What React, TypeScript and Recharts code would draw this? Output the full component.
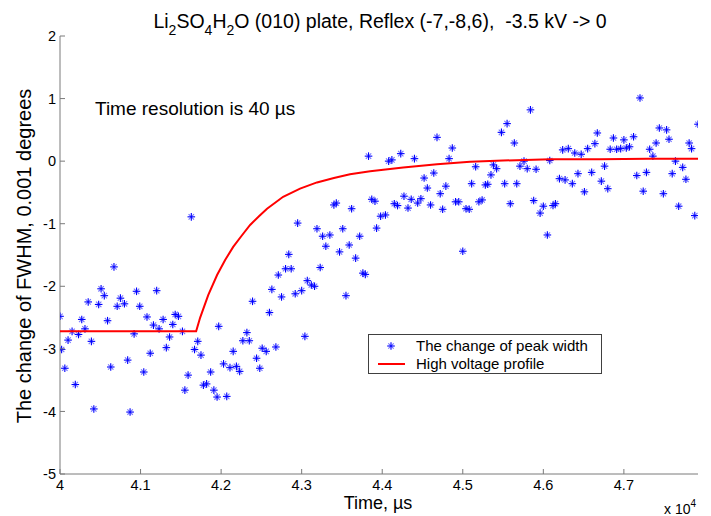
import { ScatterChart, Scatter, XAxis, YAxis, Legend } from 'recharts';

// Time, µs and peak width change (0.001 deg)
const widthTimes = [
  40000, 40020, 40060, 40100, 40150, 40190, 40230, 40270, 40310, 40350,
  40390, 40420, 40480, 40510, 40550, 40590, 40630, 40670, 40710, 40750,
  40800, 40840, 40870, 40920, 40950, 40990, 41040, 41080, 41120, 41160,
  41200, 41230, 41280, 41320, 41360, 41400, 41430, 41470, 41520, 41550,
  41590, 41630, 41670, 41710, 41750, 41780, 41820, 41870, 41910, 41950,
  41970, 42030, 42070, 42110, 42150, 42190, 42230, 42270, 42320, 42350,
  42390, 42440, 42480, 42510, 42560, 42600, 42630, 42680, 42710, 42750,
  42800, 42840, 42870, 42920, 42950, 43000, 43040, 43070, 43120, 43160,
  43190, 43230, 43260, 43300, 43350, 43400, 43430, 43470, 43510, 43550,
  43590, 43620, 43670, 43720, 43760, 43790, 43830, 43870, 43910, 43930,
  43980, 44040, 44080, 44120, 44150, 44190, 44230, 44270, 44320, 44360,
  44400, 44440, 44480, 44520, 44560, 44600, 44640, 44680, 44720, 44750,
  44790, 44830, 44870, 44910, 44950, 45000, 45040, 45080, 45110, 45160,
  45200, 45240, 45280, 45310, 45350, 45380, 45420, 45480, 45520, 45550,
  45590, 45640, 45670, 45710, 45760, 45800, 45840, 45880, 45910, 45960,
  46000, 46050, 46080, 46120, 46150, 46200, 46240, 46270, 46310, 46360,
  46390, 46430, 46470, 46510, 46550, 46600, 46640, 46670, 46720, 46760,
  46800, 46830, 46870, 46910, 46960, 47000, 47030, 47070, 47120, 47160,
  47200, 47240, 47280, 47320, 47360, 47400, 47440, 47490, 47530, 47560,
  47600, 47640, 47680, 47730, 47770, 47810, 47840, 47880, 47920,
];

const widthValues = [
  -2.48, -3.01, -3.31, -2.86, -2.72, -3.57, -2.77, -2.53, -2.68, -2.25,
  -2.88, -3.96, -2.29, -2.04, -2.15, -2.55, -3.29, -1.69, -2.32, -2.19,
  -2.28, -3.18, -4.01, -2.76, -2.08, -2.32, -3.37, -2.49, -3.07, -2.62,
  -2.07, -2.68, -2.53, -2.98, -2.81, -2.61, -2.45, -2.48, -2.72, -3.66,
  -3.42, -0.89, -3.01, -2.88, -3.10, -3.58, -3.56, -3.37, -3.66, -3.77,
  -2.64, -3.24, -3.76, -3.30, -3.04, -3.28, -3.36, -2.87, -2.74, -2.87,
  -2.24, -3.15, -3.31, -2.99, -3.04, -2.42, -2.05, -2.97, -1.82, -2.17,
  -1.72, -1.49, -1.72, -2.12, -0.99, -2.07, -2.80, -1.91, -1.98, -2.00,
  -1.08, -1.70, -1.20, -1.36, -1.18, -0.70, -0.67, -1.45, -1.08, -2.15,
  -1.34, -0.76, -1.55, -1.20, -1.79, -1.81, 0.08, -0.61, -0.64, -1.07,
  -0.88, -0.86, 0.0, 0.02, -0.68, -0.71, 0.12, -0.56, -0.75, -0.61,
  0.04, -0.67, -0.60, -0.27, -0.43, -0.70, -0.19, 0.38, -0.52, -0.77,
  -0.40, 0.04, 0.21, -0.65, -0.65, -1.44, -0.76, -0.77, -0.36, -0.09,
  -0.65, -0.62, -0.38, -0.37, -0.22, -0.06, -0.12, 0.46, -0.36, 0.60,
  -0.68, 0.29, -0.36, -0.08, 0.0, -0.12, 0.82, -0.63, -0.13, -0.83,
  -0.72, -1.18, 0.01, -0.71, -0.68, -0.28, 0.18, -0.30, 0.20, -0.36,
  0.13, -0.20, 0.11, -0.49, 0.20, -0.18, 0.28, 0.45, -0.32, -0.08,
  -0.44, 0.19, 0.37, 0.19, 0.20, 0.34, 0.21, 0.23, 0.39, -0.23,
  1.01, -0.48, -0.18, 0.19, 0.08, 0.29, 0.53, -0.52, 0.50, 0.35,
  -0.20, 0.0, -0.72, -0.10, -0.29, 0.29, 0.20, -0.87, 0.59,
];

// high voltage profile, read at points along the red curve
const profileTimes = [
  40000, 41690, 41740, 41840, 41950, 42050, 42150, 42250, 42360, 42470,
  42570, 42770, 42980, 43190, 43400, 43600, 43850, 44260, 44680, 45090,
  45500, 46090, 46700, 47300, 47920,
];
const profileValues = [
  -2.72, -2.72, -2.50, -2.14, -1.82, -1.58, -1.37, -1.20, -1.02, -0.88,
  -0.76, -0.57, -0.44, -0.34, -0.27, -0.21, -0.16, -0.10, -0.05, -0.01,
  0.01, 0.03, 0.03, 0.04, 0.04,
];

const xTicks = [40000, 41000, 42000, 43000, 44000, 45000, 46000, 47000];
const yTicks = [-5, -4, -3, -2, -1, 0, 1, 2];

const widthData = widthTimes.map((t, i) => ({ t, v: widthValues[i] }));
const profileData = profileTimes.map((t, i) => ({ t, v: profileValues[i] }));

const FONT = '"Liberation Sans", Arial, sans-serif';
const AXIS = '#7a7a7a';
const BLUE = '#0000ff';
const RED = '#ff0000';
const TICK = 5;

function Asterisk(props: any) {
  const { cx, cy } = props;
  if (cx == null || cy == null) return <g />;
  const r = 3.8;
  const d = 2.7;
  return (
    <g stroke={BLUE} strokeWidth={1.1}>
      <line x1={cx - r} y1={cy} x2={cx + r} y2={cy} />
      <line x1={cx} y1={cy - r} x2={cx} y2={cy + r} />
      <line x1={cx - d} y1={cy - d} x2={cx + d} y2={cy + d} strokeOpacity={0.55} />
      <line x1={cx - d} y1={cy + d} x2={cx + d} y2={cy - d} strokeOpacity={0.55} />
    </g>
  );
}

// inward MATLAB-style tick marks; label offsets come from tickMargin
function BottomTick({ x, y, payload }: any) {
  return (
    <g>
      <line x1={x} y1={y - 6} x2={x} y2={y - 6 - TICK} stroke={AXIS} />
      <text x={x} y={y} dy="0.71em" textAnchor="middle" fontSize={14.5} fontFamily={FONT} fill="#000">
        {String(payload.value / 10000)}
      </text>
    </g>
  );
}

function TopTick({ x, y }: any) {
  return <line x1={x} y1={y} x2={x} y2={y + TICK} stroke={AXIS} />;
}

function LeftTick({ x, y, payload }: any) {
  return (
    <g>
      <line x1={x + 4} y1={y} x2={x + 4 + TICK} y2={y} stroke={AXIS} />
      <text x={x} y={y} dy="0.355em" textAnchor="end" fontSize={14.5} fontFamily={FONT} fill="#000">
        {payload.value}
      </text>
    </g>
  );
}

function RightTick({ x, y }: any) {
  return <line x1={x} y1={y} x2={x - TICK} y2={y} stroke={AXIS} />;
}

function LegendBox() {
  return (
    <div
      style={{
        width: 232,
        height: 38,
        border: '1px solid #404040',
        background: '#fff',
        fontFamily: FONT,
        fontSize: 15,
        color: '#000',
        position: 'relative',
      }}
    >
      <svg width={50} height={38} style={{ position: 'absolute', left: 0, top: 0 }}>
        <Asterisk cx={22} cy={11} />
        <line x1={9} y1={29} x2={36} y2={29} stroke={RED} strokeWidth={2} />
      </svg>
      <div style={{ position: 'absolute', left: 47, top: 2, lineHeight: '18px', whiteSpace: 'nowrap' }}>
        The change of peak width
      </div>
      <div style={{ position: 'absolute', left: 47, top: 20, lineHeight: '18px', whiteSpace: 'nowrap' }}>
        High voltage profile
      </div>
    </div>
  );
}

export default function App() {
  return (
    <div style={{ position: 'absolute', left: 0, top: 0, width: 711, height: 516, background: '#fff' }}>
      <ScatterChart width={711} height={516} margin={{ top: 36, right: 13, bottom: 0, left: 0 }}>
        <XAxis
          xAxisId="b"
          type="number"
          dataKey="t"
          domain={[40000, 47920]}
          allowDataOverflow
          ticks={xTicks}
          interval={0}
          height={42}
          tickLine={false}
          tickSize={0}
          tickMargin={6}
          stroke={AXIS}
          tick={<BottomTick />}
        />
        <XAxis
          xAxisId="top"
          orientation="top"
          type="number"
          domain={[40000, 47920]}
          allowDataOverflow
          ticks={xTicks}
          interval={0}
          height={0}
          tickLine={false}
          tickSize={0}
          tickMargin={0}
          stroke={AXIS}
          tick={<TopTick />}
        />
        <YAxis
          yAxisId="l"
          type="number"
          dataKey="v"
          domain={[-5, 2]}
          allowDataOverflow
          ticks={yTicks}
          interval={0}
          width={60}
          tickLine={false}
          tickSize={0}
          tickMargin={4}
          stroke={AXIS}
          tick={<LeftTick />}
        />
        <YAxis
          yAxisId="r"
          orientation="right"
          type="number"
          domain={[-5, 2]}
          allowDataOverflow
          ticks={yTicks}
          interval={0}
          width={0}
          tickLine={false}
          tickSize={0}
          tickMargin={0}
          stroke={AXIS}
          tick={<RightTick />}
        />
        <Scatter
          name="The change of peak width"
          data={widthData}
          xAxisId="b"
          yAxisId="l"
          shape={<Asterisk />}
          isAnimationActive={false}
        />
        <Scatter
          name="High voltage profile"
          data={profileData}
          xAxisId="b"
          yAxisId="l"
          line={{ stroke: RED, strokeWidth: 2 }}
          lineType="joint"
          shape={() => <g />}
          isAnimationActive={false}
        />
        <Legend
          layout="vertical"
          align="center"
          verticalAlign="middle"
          wrapperStyle={{ left: 368, top: 334, width: 234 }}
          content={() => <LegendBox />}
        />
      </ScatterChart>
      <svg
        width={711}
        height={516}
        style={{ position: 'absolute', left: 0, top: 0, pointerEvents: 'none' }}
        fontFamily={FONT}
        fill="#000"
      >
        <text x={380} y={28} textAnchor="middle" fontSize={19.5}>
          Li<tspan dy={7} fontSize={14}>2</tspan>
          <tspan dy={-7}>SO</tspan>
          <tspan dy={7} fontSize={14}>4</tspan>
          <tspan dy={-7}>H</tspan>
          <tspan dy={7} fontSize={14}>2</tspan>
          <tspan dy={-7}>{'O (010) plate, Reflex (-7,-8,6), \u00a0-3.5 kV -> 0'}</tspan>
        </text>
        <text x={95} y={115} fontSize={19}>
          Time resolution is 40 µs
        </text>
        <text transform="translate(31,256) rotate(-90)" textAnchor="middle" fontSize={20}>
          The change of FWHM, 0.001 degrees
        </text>
        <text x={378} y={509} textAnchor="middle" fontSize={18}>
          Time, µs
        </text>
        <text x={664} y={514} fontSize={14}>
          x 10<tspan dy={-7} fontSize={10}>4</tspan>
        </text>
      </svg>
    </div>
  );
}
